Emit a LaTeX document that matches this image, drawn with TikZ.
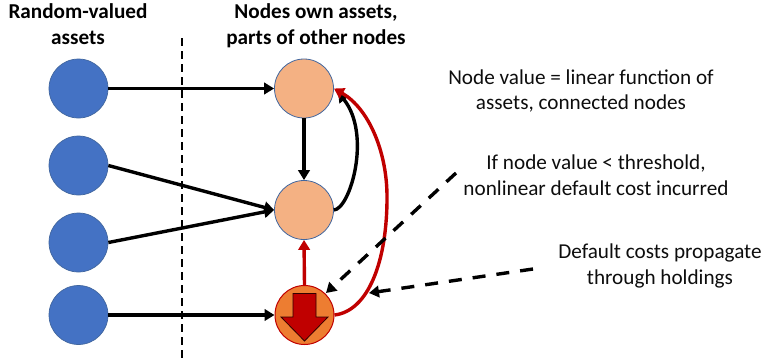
\documentclass[tikz,border=0pt]{standalone}
\usepackage{fontspec}
\setmainfont{Carlito}
\usetikzlibrary{arrows.meta}
\definecolor{bluefill}{HTML}{4472C4}
\definecolor{edgeblue}{HTML}{41669E}
\definecolor{peach}{HTML}{F4B183}
\definecolor{orangefill}{HTML}{ED7D31}
\definecolor{darkred}{HTML}{C00000}
\tikzset{
  x=1pt,y=-1pt,
  blue node/.style={circle,draw=edgeblue,line width=0.7pt,fill=bluefill,minimum size=59pt,inner sep=0pt},
  orange node/.style={circle,draw=edgeblue,line width=0.8pt,fill=peach,minimum size=59pt,inner sep=0pt},
  default node/.style={circle,draw=darkred,line width=1pt,fill=orangefill,minimum size=59pt,inner sep=0pt},
  link/.style={line width=3.4pt,black,-{Triangle[length=10pt,width=11.5pt]}},
  redlink/.style={line width=3.4pt,darkred,-{Triangle[length=10pt,width=11.5pt]}},
  dashlink/.style={line width=3.4pt,black,dash pattern=on 13pt off 11pt,-{Triangle[length=10pt,width=11.5pt]}},
  label/.style={font=\fontsize{21.2}{25.8}\selectfont,align=center,inner sep=0pt,text=black!95},
  head/.style={font=\fontsize{21.2}{25.8}\selectfont\bfseries,align=center,inner sep=0pt}
}
\begin{document}
\begin{tikzpicture}
\useasboundingbox (0,0) rectangle (765,362);
\node[head] (h1) at (78,24.5) {Random-valued\\assets};
\node[head] (h2) at (316,26) {Nodes own assets,\\parts of other nodes};
\node[label] (t1) at (581,91) {Node value = linear function of\\assets, connected nodes};
\node[label] (t2) at (596,175) {If node value < threshold,\\nonlinear default cost incurred};
\node[label] (t3) at (660,266) {Default costs propagate\\through holdings};
\coordinate (dtop) at (182,38);
\coordinate (dbot) at (182,358);
\draw[line width=1.8pt,dash pattern=on 8pt off 5pt] (dtop) -- (dbot);
\node[blue node] (a1) at (78.5,88.5) {};
\node[blue node] (a2) at (78.5,165.5) {};
\node[blue node] (a3) at (78.5,242.5) {};
\node[blue node] (a4) at (78.5,315) {};
\node[orange node] (n1) at (304,88.5) {};
\node[orange node] (n2) at (304,210) {};
\node[default node] (n3) at (304.5,315) {};
\fill[darkred,draw=black!75!darkred,line width=0.8pt] (293,293.5) -- (316,293.5) -- (316,317) -- (328,317) -- (304.5,341) -- (281,317) -- (293,317) -- cycle;
\draw[link] (a1.east) -- (n1.west);
\draw[link] (a2.east) -- (n2.west);
\draw[link] (a3.east) -- (n2.west);
\draw[link] (a4.east) -- (n3.west);
\draw[link] (n1.south) -- (n2.north);
\draw[redlink] (n3.north) -- (n2.south);
\draw[link] (n2.east) .. controls (350,209) and (372,135) .. (338,92);
\draw[redlink] (n3.east) .. controls (368,311) and (387.5,262) .. (387,195) .. controls (386.5,150) and (368,108) .. (n1.east);
\coordinate (d1) at (456,173);
\coordinate (d2) at (533,269);
\coordinate (e1) at (326,293);
\coordinate (e2) at (369,293);
\draw[dashlink] (d1) -- (e1);
\draw[dashlink] (d2) -- (e2);
\end{tikzpicture}
\end{document}
